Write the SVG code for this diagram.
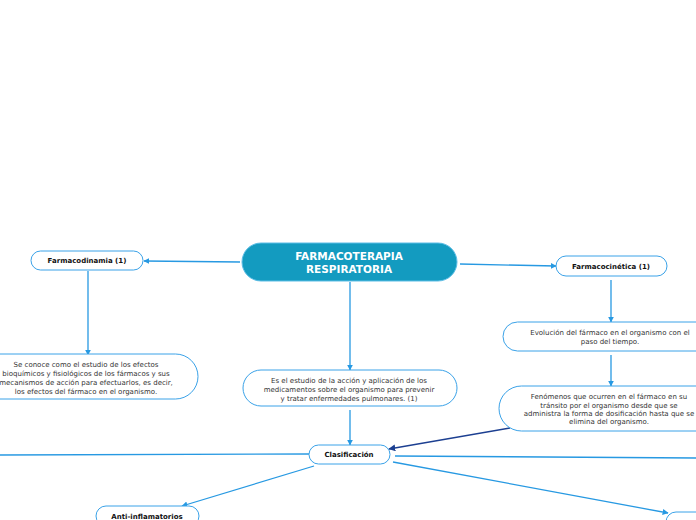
<svg xmlns="http://www.w3.org/2000/svg" width="696" height="520" viewBox="0 0 696 520">
<style>
.node{fill:#fff;stroke:#3aa2e8;stroke-width:1}
.root{fill:#139bc0;stroke:#5cbde6;stroke-width:1}
.t{font-family:"DejaVu Sans",Verdana,sans-serif;font-size:7px;fill:#333;text-anchor:middle}
.b{font-family:"DejaVu Sans",Verdana,sans-serif;font-size:7px;font-weight:bold;fill:#111;text-anchor:middle}
.rt{font-family:"DejaVu Sans",Verdana,sans-serif;font-size:10.5px;font-weight:bold;fill:#fff;text-anchor:middle}
.c{fill:none;stroke:#2799e2;stroke-width:1.3}
.d{fill:none;stroke:#1c3f91;stroke-width:1.3}
</style>
<defs>
<marker id="a" viewBox="0 0 10 10" refX="9" refY="5" markerWidth="6" markerHeight="6" orient="auto" markerUnits="userSpaceOnUse"><path d="M0,0L10,5L0,10z" fill="#2799e2"/></marker>
<marker id="ad" viewBox="0 0 10 10" refX="9" refY="5" markerWidth="7" markerHeight="7" orient="auto" markerUnits="userSpaceOnUse"><path d="M0,0L10,5L0,10z" fill="#1c3f91"/></marker>
</defs>
<g id="connectors">
<path class="c" d="M240,262L144,261" marker-end="url(#a)"/>
<path class="c" d="M460,264L556,266" marker-end="url(#a)"/>
<path class="c" d="M350,282L350,370" marker-end="url(#a)"/>
<path class="c" d="M88,271L88,355" marker-end="url(#a)"/>
<path class="c" d="M611,280L611,322" marker-end="url(#a)"/>
<path class="c" d="M611,355L611,386" marker-end="url(#a)"/>
<path class="c" d="M350,410L350,445" marker-end="url(#a)"/>
<path class="d" d="M510,428L389,449" marker-end="url(#ad)"/>
<path class="c" d="M314,466L182,506" marker-end="url(#a)"/>
<path class="c" d="M393,462L668,513" marker-end="url(#a)"/>
<path class="c" d="M395,456L696,458"/>
<path class="c" d="M309,454L0,455"/>
</g>
<g id="root">
<rect class="root" x="242" y="243" width="215" height="38" rx="19"/>
<text class="rt" x="349" y="260">FARMACOTERAPIA</text>
<text class="rt" x="349" y="273">RESPIRATORIA</text>
</g>
<g id="farmacodinamia">
<rect class="node" x="31" y="251" width="112" height="19" rx="9.5"/>
<text class="b" x="87" y="263">Farmacodinamia (1)</text>
</g>
<g id="farmacocinetica">
<rect class="node" x="556" y="256" width="111" height="20" rx="10"/>
<text class="b" x="611" y="269">Farmacocinética (1)</text>
</g>
<g id="farmacodinamia-def">
<rect class="node" x="-30" y="354" width="228" height="45" rx="22.5"/>
<text class="t" x="86" y="367">Se conoce como el estudio de los efectos</text>
<text class="t" x="86" y="376">bioquímicos y fisiológicos de los fármacos y sus</text>
<text class="t" x="86" y="385">mecanismos de acción para efectuarlos, es decir,</text>
<text class="t" x="86" y="394">los efectos del fármaco en el organismo.</text>
</g>
<g id="definicion">
<rect class="node" x="243" y="370" width="214" height="36" rx="18"/>
<text class="t" x="349" y="383">Es el estudio de la acción y aplicación de los</text>
<text class="t" x="349" y="392">medicamentos sobre el organismo para prevenir</text>
<text class="t" x="349" y="401">y tratar enfermedades pulmonares. (1)</text>
</g>
<g id="evolucion">
<rect class="node" x="503" y="322" width="220" height="29" rx="14.5"/>
<text class="t" x="610" y="335">Evolución del fármaco en el organismo con el</text>
<text class="t" x="610" y="344">paso del tiempo.</text>
</g>
<g id="fenomenos">
<rect class="node" x="499" y="386" width="230" height="45" rx="22.5"/>
<text class="t" x="609" y="399">Fenómenos que ocurren en el fármaco en su</text>
<text class="t" x="609" y="408">tránsito por el organismo desde que se</text>
<text class="t" x="609" y="416">administra la forma de dosificación hasta que se</text>
<text class="t" x="609" y="424">elimina del organismo.</text>
</g>
<g id="clasificacion">
<rect class="node" x="309" y="445" width="81" height="19" rx="9.5"/>
<text class="b" x="349" y="457">Clasificación</text>
</g>
<g id="antiinflamatorios">
<rect class="node" x="96" y="506" width="103" height="20" rx="10"/>
<text class="b" x="147" y="519">Anti-inflamatorios</text>
</g>
<g id="node-bottom-right">
<rect class="node" x="666" y="512" width="60" height="20" rx="10"/>
</g>
</svg>
